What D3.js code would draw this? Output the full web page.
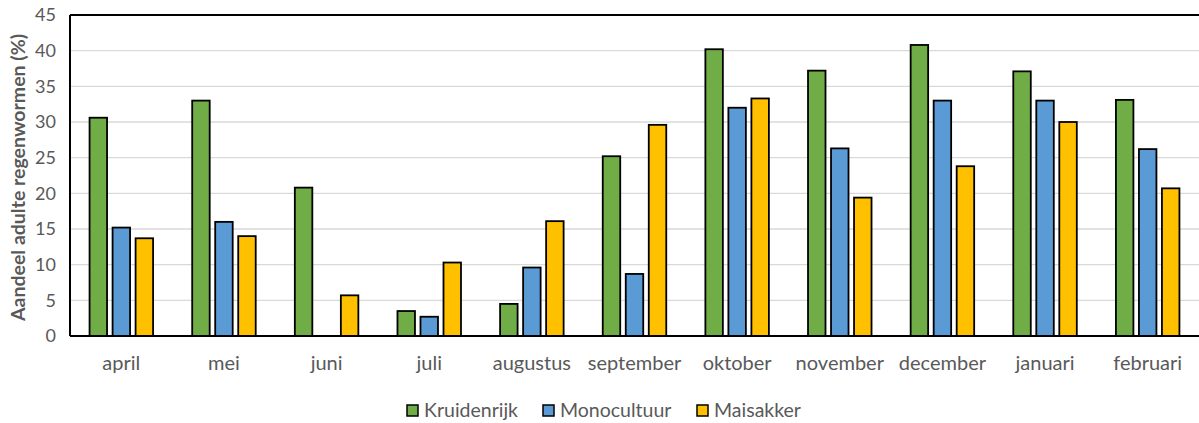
<!DOCTYPE html>
<html><head><meta charset="utf-8">
<script src="https://cdn.jsdelivr.net/npm/d3@7"></script>
<style>body{margin:0;background:#fff}svg{display:block;font-family:Lato,"Open Sans",sans-serif}</style>
</head><body><svg id="c" width="1199" height="423"></svg>
<script>
const months = ["april","mei","juni","juli","augustus","september","oktober","november","december","januari","februari"];
const seriesNames = ["Kruidenrijk","Monocultuur","Maisakker"];
const kruidenrijk = [30.6,33.0,20.8,3.5,4.5,25.2,40.2,37.2,40.8,37.1,33.1];
const monocultuur = [15.2,16.0,null,2.7,9.6,8.7,32.0,26.3,33.0,33.0,26.2];
const maisakker   = [13.7,14.0,5.7,10.3,16.1,29.6,33.3,19.4,23.8,30.0,20.7];
const colors = ["#70AD47","#5B9BD5","#FFC000"];
const yTicks = [0,5,10,15,20,25,30,35,40,45];
const yLabel = "Aandeel adulte regenwormen (%)";

const values = [kruidenrijk, monocultuur, maisakker];
const svg = d3.select("#c");
const L = 70, R = 1199, T = 15, B = 336;
const x0 = d3.scaleBand().domain(months).range([L, R]).padding(0);
const x1 = d3.scaleBand().domain(seriesNames).range([0, x0.bandwidth()]).paddingInner(0.24).paddingOuter(0.85);
const y = d3.scaleLinear().domain([0,45]).range([B, T]);

// gridlines
svg.append("g").selectAll("line").data(yTicks.filter(t=>t>0 && t<45)).join("line")
  .attr("x1", L).attr("x2", R).attr("y1", d=>y(d)).attr("y2", d=>y(d))
  .attr("stroke", "#d9d9d9").attr("stroke-width", 1.3);

// bars
const rows = [];
months.forEach((m,i)=>seriesNames.forEach((s,j)=>{ if(values[j][i]!=null) rows.push({m,s,j,v:values[j][i]}); }));
svg.append("g").selectAll("rect").data(rows).join("rect")
  .attr("x", d=>x0(d.m)+x1(d.s)).attr("width", x1.bandwidth())
  .attr("y", d=>y(d.v)).attr("height", d=>B-y(d.v))
  .attr("fill", d=>colors[d.j]).attr("stroke", "#000").attr("stroke-width", 1.8);

// frame
svg.append("line").attr("x1",L).attr("x2",R).attr("y1",T).attr("y2",T).attr("stroke","#000").attr("stroke-width",2);
svg.append("line").attr("x1",L).attr("x2",L).attr("y1",T).attr("y2",B).attr("stroke","#000").attr("stroke-width",2);
svg.append("line").attr("x1",L).attr("x2",R).attr("y1",B).attr("y2",B).attr("stroke","#000").attr("stroke-width",2);

// y axis
const ya = svg.append("g").attr("transform",`translate(${L},0)`)
  .call(d3.axisLeft(y).tickValues(yTicks).tickSize(0).tickPadding(14));
ya.select(".domain").remove();
ya.selectAll("text").attr("fill","#595959").style("font-size","18px").style("font-family","Lato");

// x axis
const xa = svg.append("g").attr("transform",`translate(0,${B})`)
  .call(d3.axisBottom(x0).tickSize(0).tickPadding(20));
xa.select(".domain").remove();
xa.selectAll("text").attr("fill","#595959").style("font-size","20px").style("font-family","Lato");

// y label
svg.append("text").attr("transform",`translate(25,${(T+B)/2+2}) rotate(-90)`)
  .attr("text-anchor","middle").attr("fill","#595959").style("font-weight","bold").style("font-size","19.5px")
  .text(yLabel);

// legend
const legX = [407, 543, 697];
const lg = svg.append("g").selectAll("g").data(seriesNames).join("g")
  .attr("transform",(d,i)=>`translate(${legX[i]},405)`);
lg.append("rect").attr("width",11).attr("height",11).attr("fill",(d,i)=>colors[i]).attr("stroke","#000").attr("stroke-width",1.5);
lg.append("text").attr("x",17).attr("y",12).attr("fill","#595959").style("font-size","19.5px").text(d=>d);
</script></body></html>
